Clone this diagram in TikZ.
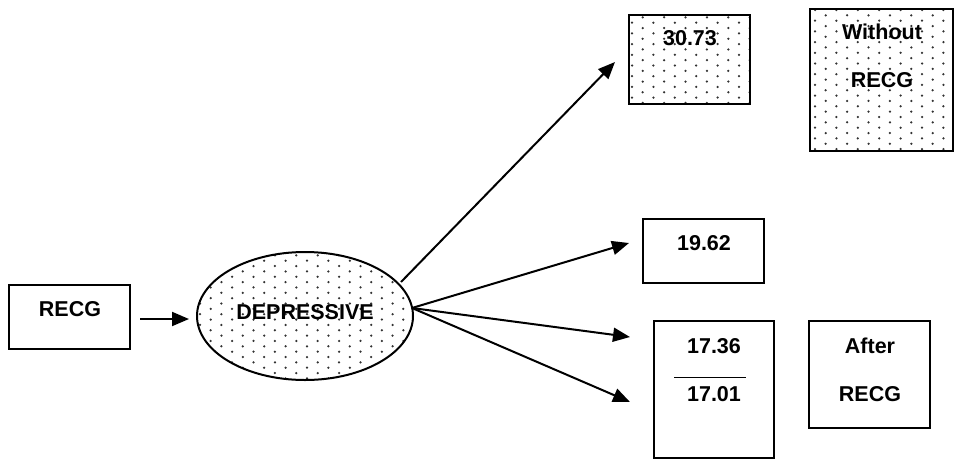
\documentclass[tikz,border=0pt]{standalone}
\usepackage{fontspec}
\setmainfont{Liberation Sans}
\usetikzlibrary{arrows.meta,shapes.geometric}
\newcommand\dotgrid[4]{%
  \foreach \c in {0,...,#3}{%
    \foreach \r in {0,...,#4}{%
      \fill[black!80] ({#1+\c*10.7},{#2+\r*10.7+mod(\c,2)*5.35}) circle (1.25pt);
    }%
  }%
}
\begin{document}
\begin{tikzpicture}[x=1pt,y=-1pt,
  box/.style={draw,line width=2pt,rectangle,inner sep=0pt},
  lbl/.style={font=\fontsize{21.5}{26}\selectfont\bfseries,inner sep=0pt},
  arr/.style={line width=2pt,-{Triangle[length=17pt,width=14pt]}}]
\useasboundingbox (0,0) rectangle (956,459);

% dotted fills
\begin{scope}
  \clip (629,15) rectangle (750,104);
  \dotgrid{632}{12}{12}{9}
\end{scope}
\begin{scope}
  \clip (810,9) rectangle (953,151);
  \dotgrid{815}{10}{14}{14}
\end{scope}
\begin{scope}
  \clip (305,316) ellipse [x radius=108, y radius=64];
  \dotgrid{200}{250}{21}{13}
\end{scope}

% boxes
\node[box,minimum width=121pt,minimum height=64pt] (recg) at (69.5,317) {};
\node[lbl] (recgt) at (70,309) {RECG};

\node[draw,line width=2pt,ellipse,minimum width=216pt,minimum height=128pt,inner sep=0pt] (dep) at (305,316) {};
\node[lbl] (dept) at (305,312) {DEPRESSIVE};

\node[box,minimum width=121pt,minimum height=89pt] (b1) at (689.5,59.5) {};
\node[lbl] (b1t) at (690,38) {30.73};

\node[box,minimum width=143pt,minimum height=142pt] (w) at (881.5,80) {};
\node[lbl] (wt1) at (882,32) {Without};
\node[lbl] (wt2) at (882,80) {RECG};

\node[box,minimum width=121pt,minimum height=64pt] (b2) at (703.5,251) {};
\node[lbl] (b2t) at (704,243) {19.62};

\node[box,minimum width=120pt,minimum height=137pt] (b3) at (714,389.5) {};
\node[lbl] (b3t) at (714,346) {17.36};
\node[lbl] (b3u) at (714,394) {17.01};
\coordinate (ln1) at (674,377);
\coordinate (ln2) at (746,377);
\draw[line width=0.7pt] (ln1) -- (ln2);

\node[box,minimum width=121pt,minimum height=107pt] (a) at (869.5,374.5) {};
\node[lbl] (at1) at (870,346) {After};
\node[lbl] (at2) at (870,394) {RECG};

% arrows
\coordinate (s0) at (140,319);
\coordinate (e0) at (189,319);
\draw[arr] (s0) -- (e0);

\coordinate (s1) at (401,282);
\coordinate (e1) at (615,62);
\draw[arr] (s1) -- (e1);

\coordinate (s2) at (412,308);
\coordinate (e2) at (629,243);
\draw[arr] (s2) -- (e2);

\coordinate (e3) at (630,337);
\draw[arr] (s2) -- (e3);

\coordinate (e4) at (630,402);
\draw[arr] (s2) -- (e4);
\end{tikzpicture}
\end{document}
